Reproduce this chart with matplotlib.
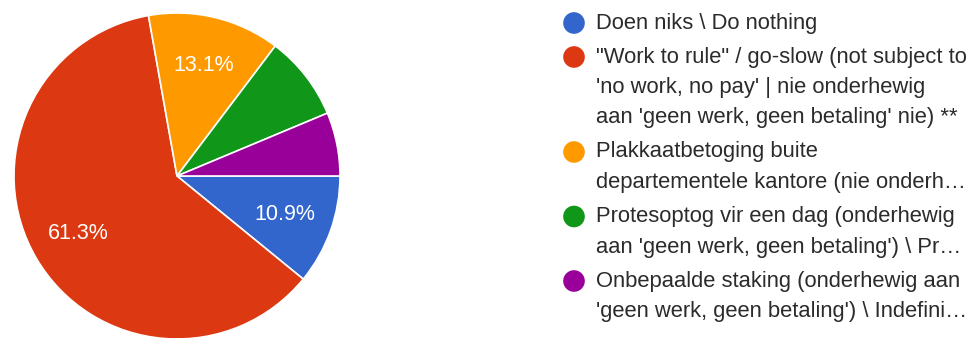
import matplotlib

matplotlib.use("Agg")
import matplotlib.pyplot as plt

plt.rcParams["font.family"] = ["Liberation Sans", "DejaVu Sans"]

# response shares, in answer order (clockwise from 3 o'clock)
shares = [10.9, 61.3, 13.1, 8.4, 6.3]
colors = ["#3366cc", "#dc3912", "#ff9900", "#109618", "#990099"]
legend_lines = [
    ["Doen niks \\ Do nothing"],
    [
        "\"Work to rule\" / go-slow (not subject to",
        "'no work, no pay' | nie onderhewig",
        "aan 'geen werk, geen betaling' nie) **",
    ],
    ["Plakkaatbetoging buite", "departementele kantore (nie onderh\u2026"],
    ["Protesoptog vir een dag (onderhewig", "aan 'geen werk, geen betaling') \\ Pr\u2026"],
    ["Onbepaalde staking (onderhewig aan", "'geen werk, geen betaling') \\ Indefini\u2026"],
]

W, H = 978, 338
fig = plt.figure(figsize=(W / 100, H / 100), dpi=100)

# pie: centre (177, 176) px, radius 163 px
cx, cy, r = 177, 176, 163
ax = fig.add_axes([(cx - r) / W, (H - cy - r) / H, 2 * r / W, 2 * r / H])


def pct_label(p):
    return f"{p:.1f}%" if p >= 10 else ""


wedges, _, autotexts = ax.pie(
    shares,
    colors=colors,
    startangle=0,
    counterclock=False,
    autopct=pct_label,
    pctdistance=0.7,
    radius=1.0,
    wedgeprops=dict(edgecolor="white", linewidth=1.2),
    textprops=dict(color="white", fontsize=15.5),
)
ax.set_xlim(-1, 1)
ax.set_ylim(-1, 1)
ax.set_aspect("equal")

# legend drawn in pixel coordinates on an overlay axes
lax = fig.add_axes([0, 0, 1, 1])
lax.set_xlim(0, W)
lax.set_ylim(H, 0)
lax.axis("off")

line_h = 30.5
item_gap = 34
y = 23
for lines, col in zip(legend_lines, colors):
    lax.scatter([574], [y], s=21 ** 2 * 0.55, color=col, edgecolors="none")
    for i, txt in enumerate(lines):
        lax.text(596, y + i * line_h, txt, fontsize=15.8, color="#2b2b2b",
                 va="center", ha="left")
    y += (len(lines) - 1) * line_h + item_gap

fig.savefig("out.png", dpi=100)
